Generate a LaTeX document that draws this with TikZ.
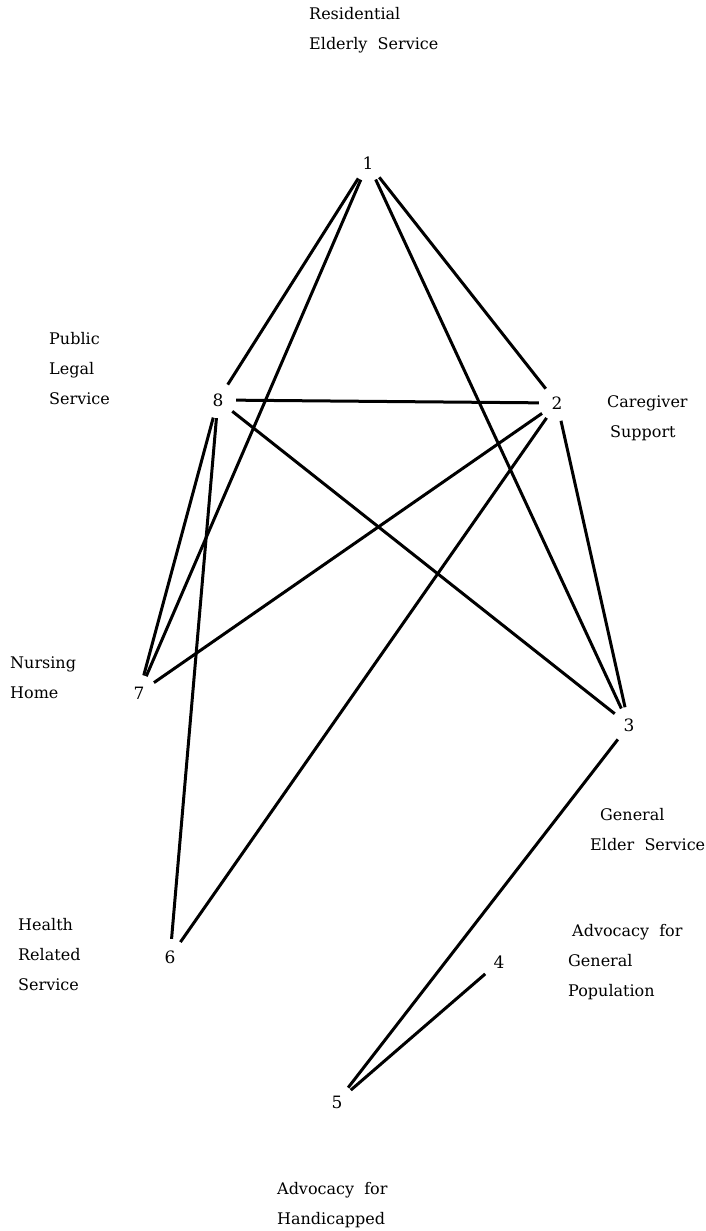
\documentclass[tikz,border=0pt]{standalone}
\usepackage{fontspec}
\setmainfont{DejaVu Serif}
\begin{document}
\begin{tikzpicture}[x=1pt,y=-1pt,
  num/.style={circle,inner sep=0pt,minimum size=36pt,font=\fontsize{17}{19}\selectfont},
  lbl/.style={anchor=west,align=left,inner sep=0pt,font=\fontsize{16}{30}\selectfont},
  link/.style={line width=3pt}]
\useasboundingbox (0,0) rectangle (705,1231);
% numbered nodes
\node[num] (n1) at (368,163) {1};
\node[num] (n2) at (557,403) {2};
\node[num] (n3) at (629,725) {3};
\node[num] (n4) at (499,962) {4};
\node[num] (n5) at (337,1102) {5};
\node[num] (n6) at (170,957) {6};
\node[num] (n7) at (139,693) {7};
\node[num] (n8) at (218,400) {8};
% labels
\node[lbl] (l1) at (309,30) {Residential\\Elderly\ \ Service};
\node[lbl] (l8) at (49,369) {Public\\Legal\\Service};
\node[lbl] (l2) at (607,418) {Caregiver\\\hspace*{3pt}Support};
\node[lbl] (l7) at (10,678) {Nursing\\Home};
\node[lbl] (l3) at (590,830) {\hspace*{10pt}General\\Elder\ \ Service};
\node[lbl] (l6) at (18,955) {Health\\Related\\Service};
\node[lbl] (l4) at (568,962) {\hspace*{4pt}Advocacy\ \ for\\General\\Population};
\node[lbl] (l5) at (277,1205) {Advocacy\ \ for\\Handicapped};
% connectors
\draw[link] (n1) -- (n8);
\draw[link] (n1) -- (n7);
\draw[link] (n1) -- (n2);
\draw[link] (n1) -- (n3);
\draw[link] (n8) -- (n2);
\draw[link] (n8) -- (n3);
\draw[link] (n8) -- (n7);
\draw[link] (n8) -- (n6);
\draw[link] (n2) -- (n7);
\draw[link] (n2) -- (n6);
\draw[link] (n2) -- (n3);
\draw[link] (n3) -- (n5);
\draw[link] (n4) -- (n5);
\end{tikzpicture}
\end{document}
